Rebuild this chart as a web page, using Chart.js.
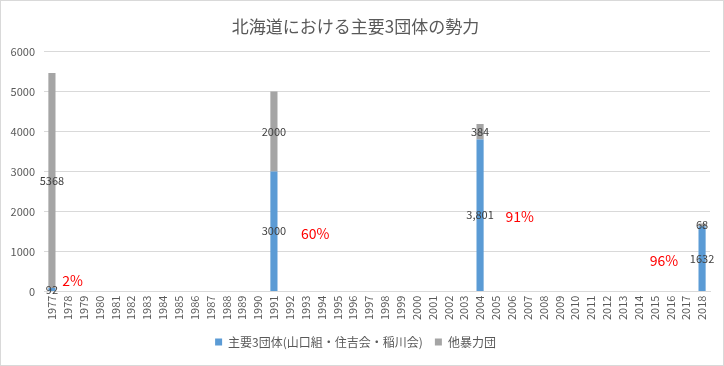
<!DOCTYPE html>
<html>
<head>
<meta charset="utf-8">
<script src="https://cdn.jsdelivr.net/npm/chart.js@4/dist/chart.umd.min.js"></script>
<style>
    body { margin: 0; background: #fff; }
    #wrap { width: 724px; height: 366px; box-sizing: border-box; border: 1px solid #d9d9d9; }
</style>
</head>
<body>
<div id="wrap"><canvas id="chart" width="722" height="364"></canvas></div>
<script>
// --------------------------------- Data ---------------------------------
const years = [
    "1977", "1978", "1979", "1980", "1981", "1982", "1983", "1984", "1985", "1986",
    "1987", "1988", "1989", "1990", "1991", "1992", "1993", "1994", "1995", "1996",
    "1997", "1998", "1999", "2000", "2001", "2002", "2003", "2004", "2005", "2006",
    "2007", "2008", "2009", "2010", "2011", "2012", "2013", "2014", "2015", "2016",
    "2017", "2018",
];
const dataYears = ["1977", "1991", "2004", "2018"];
const main3 = [92, 3000, 3801, 1632];
const others = [5368, 2000, 384, 68];
const main3Labels = ["92", "3000", "3,801", "1632"];
const othersLabels = ["5368", "2000", "384", "68"];

// Red share notes (text, position along the year axis, height in value units)
const noteText = ["2%", "60%", "91%", "96%"];
const noteAt = [1.3, 16.6, 29.5, 38.6];
const noteValue = [275, 1450, 1875, 775];

const yTicks = [0, 1000, 2000, 3000, 4000, 5000, 6000];

// Spread the few data years across all categories
const spread = (values) => years.map((y) => {
    const i = dataYears.indexOf(y);
    return i >= 0 ? values[i] : null;
});

const FONT = "'Noto Sans CJK JP', 'Noto Sans', sans-serif";

// Value labels in the middle of each bar segment
const segmentLabels = {
    id: "segmentLabels",
    afterDatasetsDraw(chart) {
        const ctx = chart.ctx;
        const sets = [main3Labels, othersLabels];
        ctx.save();
        ctx.font = "11px " + FONT;
        ctx.fillStyle = "#404040";
        ctx.textAlign = "center";
        ctx.textBaseline = "middle";
        chart.data.datasets.forEach((ds, d) => {
            chart.getDatasetMeta(d).data.forEach((bar, i) => {
                const k = dataYears.indexOf(years[i]);
                if (k < 0) return;
                const mid = (bar.y + bar.base) / 2;
                ctx.fillText(sets[d][k], bar.x, mid);
            });
        });
        ctx.restore();
    },
};

// Red percentage notes, placed through the chart's own scales
const shareNotes = {
    id: "shareNotes",
    afterDatasetsDraw(chart) {
        const ctx = chart.ctx;
        const xs = chart.scales.x;
        const ys = chart.scales.y;
        ctx.save();
        ctx.font = "14px " + FONT;
        ctx.fillStyle = "#ff0000";
        ctx.textAlign = "center";
        ctx.textBaseline = "middle";
        noteText.forEach((t, i) => {
            ctx.fillText(t, xs.getPixelForValue(noteAt[i]), ys.getPixelForValue(noteValue[i]));
        });
        ctx.restore();
    },
};

new Chart("chart", {
    type: "bar",
    data: {
        labels: years,
        datasets: [
            {
                label: "主要3団体(山口組・住吉会・稲川会)",
                data: spread(main3),
                backgroundColor: "#5b9bd5",
            },
            {
                label: "他暴力団",
                data: spread(others),
                backgroundColor: "#a5a5a5",
            },
        ],
    },
    options: {
        responsive: false,
        animation: false,
        devicePixelRatio: 1,
        datasets: { bar: { categoryPercentage: 1, barPercentage: 0.45 } },
        layout: { padding: { left: 0, right: 13, top: 4, bottom: 7 } },
        scales: {
            x: {
                stacked: true,
                grid: { display: false, drawTicks: false },
                border: { color: "#d9d9d9" },
                ticks: {
                    autoSkip: false,
                    maxRotation: 90,
                    minRotation: 90,
                    padding: 4,
                    color: "#595959",
                    font: { family: FONT, size: 11 },
                },
            },
            y: {
                stacked: true,
                min: 0,
                max: 6000,
                afterBuildTicks: (scale) => { scale.ticks = yTicks.map((v) => ({ value: v })); },
                afterFit: (scale) => { scale.width = 43; },
                grid: { color: "#d9d9d9", drawTicks: false },
                border: { display: false },
                ticks: {
                    padding: 9,
                    color: "#595959",
                    font: { family: FONT, size: 11 },
                    callback: (v) => String(v),
                },
            },
        },
        plugins: {
            title: {
                display: true,
                text: "北海道における主要3団体の勢力",
                color: "#595959",
                font: { family: FONT, size: 17, weight: "normal" },
                padding: { top: 11, bottom: 15 },
            },
            legend: {
                position: "bottom",
                labels: {
                    boxWidth: 7,
                    boxHeight: 7,
                    padding: 12,
                    color: "#595959",
                    font: { family: FONT, size: 12 },
                },
            },
            tooltip: { enabled: false },
        },
    },
    plugins: [segmentLabels, shareNotes],
});
</script>
</body>
</html>
